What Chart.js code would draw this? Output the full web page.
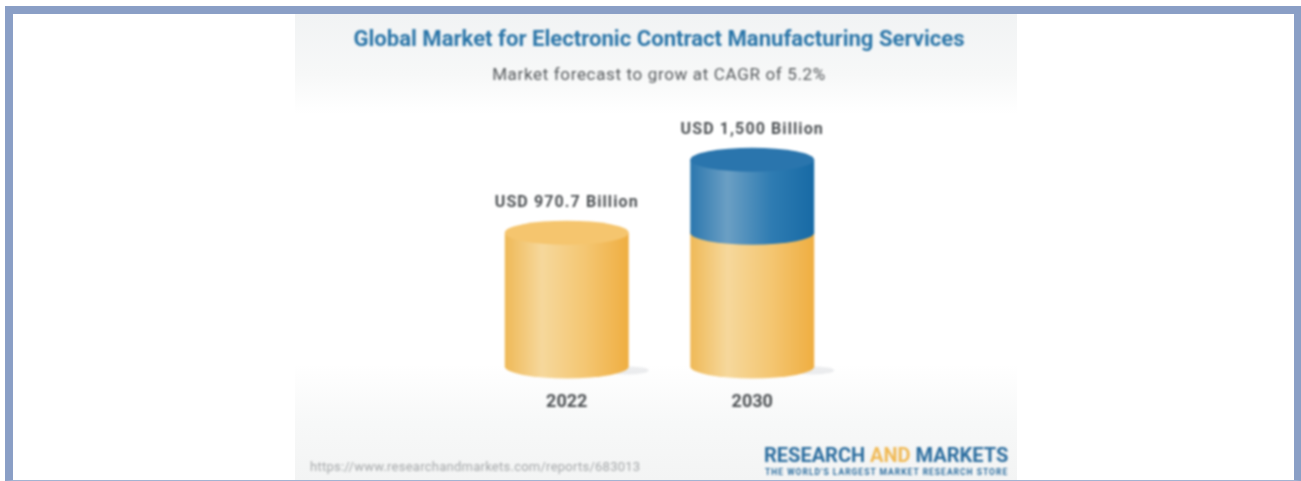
<!DOCTYPE html>
<html>
<head>
<meta charset="utf-8">
<title>Electronic Contract Manufacturing Services</title>
<script src="https://cdn.jsdelivr.net/npm/chart.js@4"></script>
<style>
  html, body { margin: 0; padding: 0; background: #fff; overflow: hidden; }
  body { width: 1301px; height: 481px; position: relative; font-family: Roboto, Arial, sans-serif; }
  #frame { position: absolute; left: 5px; top: 6px; width: 1281px; height: 466px; border: 8px solid #8a9fc6; border-bottom-width: 1px; border-bottom-color: #a3b3d2; }
  #panel {
    position: absolute; left: 295px; top: 14px; width: 722px; height: 466px;
    background: linear-gradient(to bottom, #f1f3f4 0, #f7f8f8 60px, #ffffff 100px, #ffffff 350px, #f7f8f8 410px, #f3f4f4 466px);
  }
  #wrap { position: absolute; left: 474px; top: 100px; width: 371px; height: 330px; filter: blur(0.9px); }
  .note { position: absolute; white-space: nowrap; filter: blur(0.9px); }
  #title { left: 301px; width: 716px; top: 25px; text-align: center; font-size: 22.1px; line-height: 26px; font-weight: 700; color: #2a75a8; }
  #subtitle { left: 301px; width: 716px; top: 63px; text-align: center; font-size: 17px; line-height: 22px; letter-spacing: 0.65px; color: #55595c; }
  #url { left: 310px; top: 459px; font-size: 13px; letter-spacing: 0.25px; color: #a5a8aa; }
  #logo { left: 764px; top: 443px; font-size: 20px; line-height: 24px; font-weight: 700; color: #2b6d9f; }
  #logo span { color: #f0b955; }
  #tag { left: 765px; top: 467px; font-size: 8.5px; letter-spacing: 1px; font-weight: 700; color: #2b6d9f; }
</style>
</head>
<body>
<div id="frame"></div>
<div id="panel"></div>
<div class="note" id="title">Global Market for Electronic Contract Manufacturing Services</div>
<div class="note" id="subtitle">Market forecast to grow at CAGR of 5.2%</div>
<div id="wrap"><canvas id="chart" width="371" height="330"></canvas></div>
<div class="note" id="url">https://www.researchandmarkets.com/reports/683013</div>
<div class="note" id="logo">RESEARCH <span>AND</span> MARKETS</div>
<div class="note" id="tag">THE WORLD'S LARGEST MARKET RESEARCH STORE</div>
<script>
const categories = ['2022', '2030'];
const baseValues = [970.7, 970.7];
const growthValues = [0, 529.3];
const valueLabels = ['USD 970.7 Billion', 'USD 1,500 Billion'];

const YELLOW = { stops: ['#efb957', '#f6d89c', '#f4c672', '#efae41'], top: '#f5c56e' };
const BLUE = { stops: ['#2b77ae', '#6b9fc4', '#2f7cb2', '#176aa5'], top: '#2a75ad' };
const RY = 12;

function sideGradient(ctx, left, right, stops) {
  const g = ctx.createLinearGradient(left, 0, right, 0);
  g.addColorStop(0, stops[0]);
  g.addColorStop(0.3, stops[1]);
  g.addColorStop(0.65, stops[2]);
  g.addColorStop(1, stops[3]);
  return g;
}

function drawCylinder(ctx, bar, colors) {
  const rx = bar.width / 2;
  const left = bar.x - rx;
  const right = bar.x + rx;
  ctx.fillStyle = sideGradient(ctx, left, right, colors.stops);
  ctx.beginPath();
  ctx.moveTo(left, bar.y);
  ctx.lineTo(left, bar.base);
  ctx.ellipse(bar.x, bar.base, rx, RY, 0, Math.PI, 0, true);
  ctx.lineTo(right, bar.y);
  ctx.closePath();
  ctx.fill();
  ctx.fillStyle = colors.top;
  ctx.beginPath();
  ctx.ellipse(bar.x, bar.y, rx, RY, 0, 0, Math.PI * 2);
  ctx.fill();
}

// bars stay transparent, this draws them as cylinders from the bar elements
const cylinderPlugin = {
  id: 'cylinders',
  afterDatasetsDraw(chart) {
    const ctx = chart.ctx;
    const lower = chart.getDatasetMeta(0).data;
    const upper = chart.getDatasetMeta(1).data;
    ctx.save();
    lower.forEach((bar, i) => {
      // floor shadow
      ctx.fillStyle = 'rgba(170,175,180,0.22)';
      ctx.beginPath();
      ctx.ellipse(bar.x + bar.width / 2 - 2, bar.base + 4, 22, 4, 0, 0, Math.PI * 2);
      ctx.fill();
      drawCylinder(ctx, bar, YELLOW);
      if (growthValues[i] > 0) drawCylinder(ctx, upper[i], BLUE);
      const topBar = growthValues[i] > 0 ? upper[i] : bar;
      ctx.fillStyle = '#4d5154';
      ctx.font = '700 16px Roboto, Arial, sans-serif';
      ctx.letterSpacing = '1.1px';
      ctx.textAlign = 'center';
      ctx.textBaseline = 'middle';
      ctx.fillText(valueLabels[i], topBar.x, topBar.y - 30);
    });
    ctx.restore();
  }
};

new Chart(document.getElementById('chart'), {
  type: 'bar',
  data: {
    labels: categories,
    datasets: [
      { data: baseValues, backgroundColor: 'transparent', borderWidth: 0 },
      { data: growthValues, backgroundColor: 'transparent', borderWidth: 0 }
    ]
  },
  options: {
    responsive: false,
    animation: false,
    barPercentage: 0.668,
    categoryPercentage: 1,
    layout: { padding: { left: 0, right: 0, top: 46, bottom: 0 } },
    plugins: {
      legend: { display: false },
      tooltip: { enabled: false }
    },
    scales: {
      x: {
        stacked: true,
        grid: { display: false },
        border: { display: false },
        ticks: {
          color: '#4d5154',
          padding: 17,
          font: { family: 'Roboto, Arial, sans-serif', size: 18, weight: '700' }
        }
      },
      y: {
        stacked: true,
        display: false,
        min: 0,
        max: 1600
      }
    }
  },
  plugins: [cylinderPlugin]
});
</script>
</body>
</html>
